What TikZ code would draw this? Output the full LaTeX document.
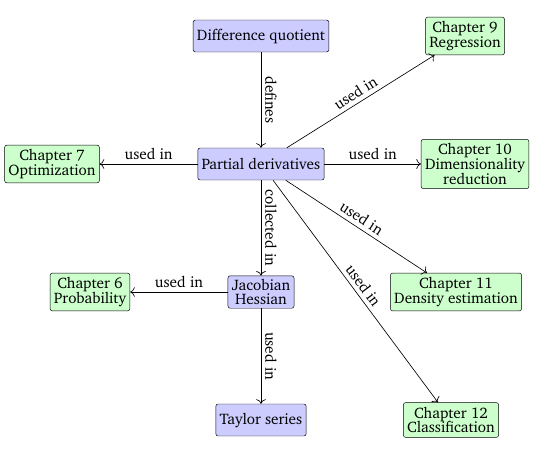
\documentclass[tikz,border=0pt]{standalone}
\usepackage[T1]{fontenc}
\usepackage{charter}
\usetikzlibrary{arrows.meta}
\tikzset{
	concept/.style={draw, rounded corners=2pt, fill=blue!20, inner xsep=3.3pt, inner ysep=2.7pt, minimum height=27.3pt, align=center},
	chapter/.style={draw, rounded corners=2pt, fill=green!20, inner xsep=3.3pt, inner ysep=3.7pt, align=center},
	link/.style={-{To[scale=1.4]}, line width=0.55pt},
	lbl/.style={above, sloped}
}
\begin{document}
\begin{tikzpicture}[x=0.03cm, y=-0.03cm, font=\fontsize{13}{12.5}\selectfont]
		\useasboundingbox (0,0) rectangle (533,475);

		\node[concept] (dq) at (261,36) {Difference quotient};
		\node[concept] (pd) at (261,164) {Partial derivatives};
		\node[concept] (jh) at (261,292) {Jacobian\\Hessian};
		\node[concept] (ts) at (261,420) {Taylor series};

		\node[chapter] (ch9) at (465,36) {Chapter 9\\Regression};
		\node[chapter] (ch7) at (52,164) {Chapter 7\\Optimization};
		\node[chapter] (ch10) at (475,164) {Chapter 10\\Dimensionality\\reduction};
		\node[chapter] (ch6) at (90,292) {Chapter 6\\Probability};
		\node[chapter] (ch11) at (456,292) {Chapter 11\\Density estimation};
		\node[chapter] (ch12) at (451,420) {Chapter 12\\Classification};

		\draw[link] (dq) -- node[lbl] {defines} (pd);
		\draw[link] (pd) -- node[lbl] {used in} (ch9);
		\draw[link] (pd) -- node[above] {used in} (ch7);
		\draw[link] (pd) -- node[above] {used in} (ch10);
		\draw[link] (pd) -- node[lbl] {collected in} (jh);
		\draw[link] (pd) -- node[lbl] {used in} (ch11);
		\draw[link] (pd) -- node[lbl] {used in} (ch12);
		\draw[link] (jh) -- node[above] {used in} (ch6);
		\draw[link] (jh) -- node[lbl] {used in} (ts);
	\end{tikzpicture}
\end{document}
